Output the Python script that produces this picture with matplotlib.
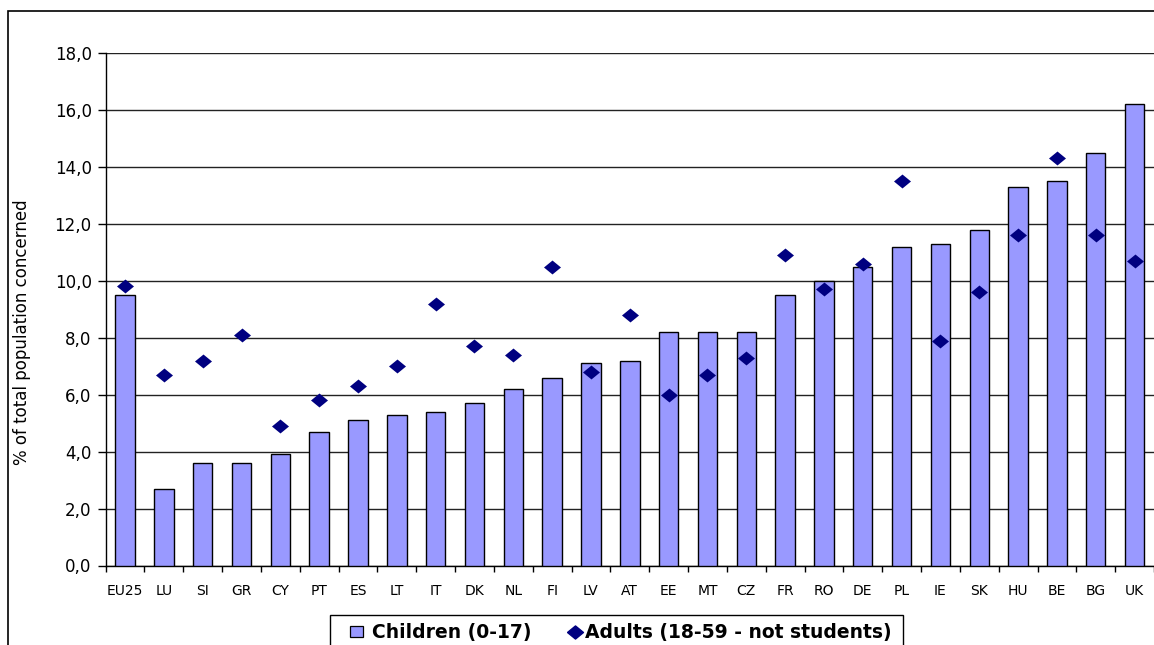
import matplotlib
matplotlib.use("Agg")
import matplotlib.pyplot as plt
from matplotlib.patches import Rectangle
from matplotlib.lines import Line2D
import numpy as np

plt.rcParams['font.family'] = ['DejaVu Sans']

countries = ["EU25", "LU", "SI", "GR", "CY", "PT", "ES", "LT", "IT", "DK", "NL", "FI", "LV", "AT",
             "EE", "MT", "CZ", "FR", "RO", "DE", "PL", "IE", "SK", "HU", "BE", "BG", "UK"]
children = [9.5, 2.7, 3.6, 3.6, 3.9, 4.7, 5.1, 5.3, 5.4, 5.7, 6.2, 6.6, 7.1, 7.2,
            8.2, 8.2, 8.2, 9.5, 10.0, 10.5, 11.2, 11.3, 11.8, 13.3, 13.5, 14.5, 16.2]
adults = [9.8, 6.7, 7.2, 8.1, 4.9, 5.8, 6.3, 7.0, 9.2, 7.7, 7.4, 10.5, 6.8, 8.8,
          6.0, 6.7, 7.3, 10.9, 9.7, 10.6, 13.5, 7.9, 9.6, 11.6, 14.3, 11.6, 10.7]
yticks = [0, 2, 4, 6, 8, 10, 12, 14, 16, 18]
legend_labels = ["Children (0-17)", "Adults (18-59 - not students)"]

BAR_COLOR = "#9999FF"
DOT_COLOR = "#000080"

W, H = 1154, 645
fig = plt.figure(figsize=(W / 100, H / 100), dpi=100)
ax_w = 1154 - 105.6
ax = fig.add_axes([105.6 / W, 1 - 565.5 / H, ax_w / W, (565.5 - 53) / H])

diamond = [(-1, 0), (0, 0.82), (1, 0), (0, -0.82), (-1, 0)]

x = np.arange(len(countries))
ax.bar(x, children, width=0.5, color=BAR_COLOR, edgecolor="black", linewidth=1.0, zorder=3)
ax.scatter(x, adults, marker=diamond, s=150, color=DOT_COLOR, zorder=4, linewidths=0)

ax.set_xlim(-0.5, len(countries) - 0.5)
ax.set_ylim(0, 18)
ax.set_yticks(yticks)
ax.set_yticklabels([f"{v:.1f}".replace(".", ",") for v in yticks], fontsize=12)
ax.set_xticks(x)
ax.set_xticklabels(countries, fontsize=10)
ax.set_xticks(np.arange(-0.5, len(countries), 1), minor=True)
ax.tick_params(axis="x", which="major", length=0, pad=13)
ax.tick_params(axis="x", which="minor", length=4, width=1, color="black", direction="out")
ax.tick_params(axis="y", length=6, width=1, color="black", direction="out", pad=4)

ax.grid(axis="y", color="#222222", linewidth=1.0, zorder=0)
ax.set_axisbelow(True)
for s in ["top", "right"]:
    ax.spines[s].set_visible(False)
for s in ["left", "bottom"]:
    ax.spines[s].set_color("black")
    ax.spines[s].set_linewidth(1.0)

ax.set_ylabel("% of total population concerned", fontsize=12)
ax.yaxis.set_label_coords(-75 / ax_w, (565.5 - 332) / 512.5)

# outer frame
fig.patches.append(Rectangle((8 / W, -0.1), 1.2, 1 - 11 / H + 0.1, transform=fig.transFigure,
                             fill=False, edgecolor="black", linewidth=1.2))

# legend (box runs past the bottom edge as in the reference)
def fx(px):
    return px / W

def fy(py):
    return 1 - py / H

fig.patches.append(Rectangle((fx(330), fy(660)), fx(903) - fx(330), fy(615) - fy(660),
                             transform=fig.transFigure, facecolor="white",
                             edgecolor="black", linewidth=1.0, zorder=5))
fig.patches.append(Rectangle((fx(350), fy(637)), fx(363) - fx(350), fy(626) - fy(637),
                             transform=fig.transFigure, facecolor=BAR_COLOR,
                             edgecolor="black", linewidth=0.9, zorder=6))
fig.lines.append(Line2D([fx(574.5)], [fy(631.5)], transform=fig.transFigure, marker=diamond,
                        markersize=11.5, color=DOT_COLOR, linestyle="none", zorder=6))
fig.text(fx(372), fy(638), legend_labels[0], fontsize=13.5, fontweight="bold",
         va="baseline", ha="left", zorder=7)
fig.text(fx(585), fy(638), legend_labels[1], fontsize=13.5, fontweight="bold",
         va="baseline", ha="left", zorder=7)

fig.savefig("out.png", dpi=100)
